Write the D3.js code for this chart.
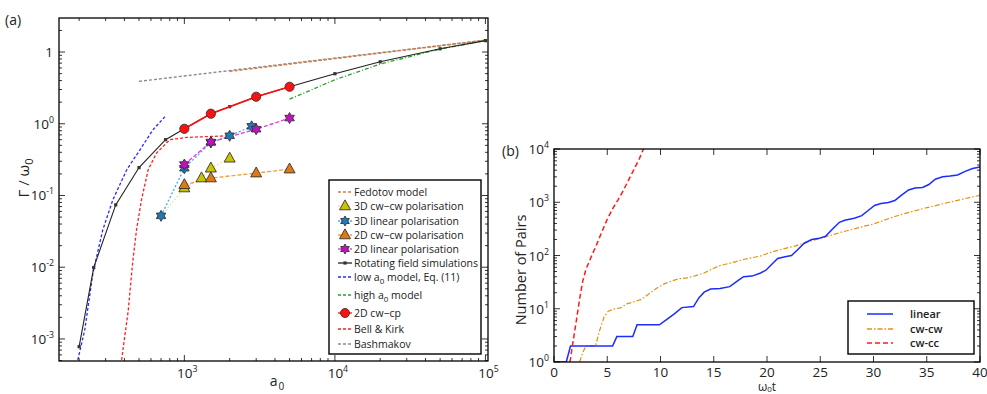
<!DOCTYPE html>
<html><head><meta charset="utf-8">
<script src="https://cdn.jsdelivr.net/npm/d3@7"></script>
<style>body{margin:0;background:#fff} text{font-family:"Open Sans",sans-serif;fill:#222}</style>
</head><body>
<svg id="c" width="987" height="394"></svg>
<script>
// ---------------- Panel (a) data ----------------
const rotA0 = [200,250,350,500,750,1000,1500,2000,3000,5000,10000,20000,50000,100000];
const rotG  = [7.8e-4,0.0099,0.074,0.245,0.6,0.85,1.38,1.73,2.38,3.28,4.98,7.3,11.1,14.4];
const cpA0 = [1000,1500,3000,5000];
const cpG  = [0.85,1.38,2.38,3.28];
const lin2dA0 = [1000,1500,3000,5000];
const lin2dG  = [0.27,0.556,0.84,1.2];
const lin3dA0 = [700,1000,1500,2000,2800];
const lin3dG  = [0.052,0.24,0.55,0.68,0.92];
const cw3dA0 = [700,1000,1300,1500,2000];
const cw3dG  = [0.052,0.127,0.175,0.24,0.33];
const cw2dA0 = [1000,1500,3000,5000];
const cw2dG  = [0.141,0.175,0.205,0.233];
const lowA0 = [196,218,247,287,335,415,506,617,742];
const lowG  = [5.1e-4,1.34e-3,8.3e-3,0.033,0.087,0.23,0.43,0.82,1.25];
const highA0 = [5000,10000,20000,50000,100000];
const highG  = [2.2,4.1,6.8,11,14.4];
const bkA0 = [383,424,453,481,519,575,653,801,1034,1500,2000];
const bkG  = [5.1e-4,2.5e-3,0.0114,0.033,0.087,0.228,0.39,0.6,0.645,0.665,0.68];
const fedA0 = [2000,100000];
const fedG  = [5.37,14.6];
const basA0 = [500,100000];
const basG  = [3.9,14.6];
const aXTicks = [1e3,1e4,1e5];
const aXTickLabels = [["10","3"],["10","4"],["10","5"]];
const aYTicks = [1e-3,1e-2,1e-1,1,10];
const aYTickLabels = [["10","-3"],["10","-2"],["10","-1"],["10","0"],["1",""]];
const aLegend = ["Fedotov model","3D cw\u2212cw polarisation","3D linear polarisation","2D cw\u2212cw polarisation","2D linear polarisation","Rotating field simulations","low a0 model, Eq. (11)","high a0 model","2D cw\u2212cp","Bell & Kirk","Bashmakov"];

// ---------------- Panel (b) data ----------------
const linT = [0,1.15,1.55,5.5,5.9,7.4,7.8,9.9,10.6,11.3,12,13.1,13.6,14.1,14.7,15.6,16.5,17.3,17.8,18.6,19.4,19.9,20.5,21.0,21.7,22.3,22.9,23.5,24.2,24.9,25.5,26.2,26.8,27.3,28.2,28.9,29.5,30.1,30.7,31.4,32.0,32.6,33.3,33.9,34.6,35.2,35.8,36.5,37.2,37.9,38.6,39.3,40];
const linN = [1,1,2,2,3,3,5,5,6.3,8,10.5,11,16,20.5,23.5,24,26,34,40,41,47,53,70,88,95,100,130,170,200,210,230,320,420,460,500,560,700,870,950,990,1080,1350,1700,1850,1900,2150,2700,3000,3100,3250,3800,4300,4600];
const cwT = [2.4,2.7,3.0,3.9,4.3,4.7,5.1,5.6,6.3,6.9,7.5,8.2,8.9,9.6,10.3,11,11.7,12.5,13.3,14.1,14.8,15.5,16.3,17,17.8,18.6,19.4,20.2,21,21.8,22.6,23.4,24.2,25,26,27,28,29,30,31,32,33,34,35,36,37,38,39,40];
const cwN = [1,1.5,2,2,4,7,9,9.8,10.5,12.5,13.5,15,19,24,29,33,36.5,38,42,47,55,64,70,76,84,91,98,112,125,138,150,170,190,210,240,275,310,350,390,460,540,620,700,790,880,990,1100,1220,1350];
const ccT = [1.5,1.8,2.1,2.4,2.7,3.0,3.5,4.0,4.5,5.0,5.5,6.0,6.5,7.0,7.5,8.0,8.4];
const ccN = [1,2.5,6,15,33,55,95,160,280,480,750,1100,1650,2600,4100,6500,10000];
const bXTicks = [0,5,10,15,20,25,30,35,40];
const bYTicks = [1,10,100,1000,10000];
const bYTickLabels = [["10","0"],["10","1"],["10","2"],["10","3"],["10","4"]];
const bLegend = ["linear","cw-cw","cw-cc"];

const svg = d3.select("#c");
const defs = svg.append("defs");

function minorLog(domain){
  const out=[]; const lo=Math.floor(Math.log10(domain[0])), hi=Math.ceil(Math.log10(domain[1]));
  for(let e=lo;e<=hi;e++) for(let k=2;k<=9;k++){const v=k*Math.pow(10,e); if(v>=domain[0]&&v<=domain[1]) out.push(v);}
  return out;
}
function frame(g,x,y,xMaj,xMin,yMaj,yMin){
  const [x0,x1]=x.range(), [y0,y1]=y.range();
  const tk=(x1a,y1a,x2a,y2a)=>g.append("line").attr("x1",x1a).attr("y1",y1a).attr("x2",x2a).attr("y2",y2a).attr("stroke","#000").attr("stroke-width",0.8);
  xMaj.forEach(v=>{tk(x(v),y0,x(v),y0-6);tk(x(v),y1,x(v),y1+6);});
  xMin.forEach(v=>{tk(x(v),y0,x(v),y0-3);tk(x(v),y1,x(v),y1+3);});
  yMaj.forEach(v=>{tk(x0,y(v),x0+6,y(v));tk(x1,y(v),x1-6,y(v));});
  yMin.forEach(v=>{tk(x0,y(v),x0+3,y(v));tk(x1,y(v),x1-3,y(v));});
  g.append("rect").attr("x",x0).attr("y",y1).attr("width",x1-x0).attr("height",y0-y1)
   .attr("fill","none").attr("stroke","#000").attr("stroke-width",1.3);
}
function supLabel(g,x,y,lab,anchor,size){
  const t=g.append("text").attr("x",x).attr("y",y).attr("text-anchor",anchor).attr("font-size",size);
  t.append("tspan").text(lab[0]);
  if(lab[1]) t.append("tspan").attr("dy",-6).attr("font-size",size*0.65).text(lab[1]);
  return t;
}
function hexagram(r){
  const pts=[];
  for(let i=0;i<12;i++){const a=-Math.PI/2+i*Math.PI/6; const rr=i%2?r/Math.sqrt(3):r; pts.push([rr*Math.cos(a),rr*Math.sin(a)]);}
  return "M"+pts.map(p=>p[0].toFixed(2)+","+p[1].toFixed(2)).join("L")+"Z";
}
function triangle(w){const h=w*0.9; return `M0,${-h*0.62}L${w/2},${h*0.38}L${-w/2},${h*0.38}Z`;}

// ================= Panel (a) =================
const ga = svg.append("g");
const xa = d3.scaleLog().domain([147,1.04e5]).range([59,488]);
const ya = d3.scaleLog().domain([4.93e-4,29.8]).range([361,18]);
defs.append("clipPath").attr("id","ca").append("rect").attr("x",59).attr("y",18).attr("width",429).attr("height",343);
const pa = ga.append("g").attr("clip-path","url(#ca)");
const lineA = d3.line().x(d=>xa(d[0])).y(d=>ya(d[1]));
const zip=(a,b)=>a.map((v,i)=>[v,b[i]]);
function pathA(a,b,col,dash,w){return pa.append("path").attr("d",lineA(zip(a,b))).attr("fill","none").attr("stroke",col).attr("stroke-width",w||1.2).attr("stroke-dasharray",dash||null);}

const C = {fed:"#d0804a",bas:"#8a8a8a",cw3:"#c8c400",lin3:"#1f78b8",cw2:"#e07a10",lin2:"#c010c0",rot:"#222",low:"#2a2aff",high:"#2f9f2f",cp:"#ff1010",bk:"#ff2020"};

pathA(basA0,basG,C.bas,"3,2",1.4);
pathA(fedA0,fedG,C.fed,"3,2",1.6);
pathA(highA0,highG,C.high,"4,2,1,2",1.3);
pathA(lowA0,lowG,C.low,"3,2",1.3);
pathA(bkA0,bkG,C.bk,"3,2",1.3);
pathA(rotA0,rotG,C.rot,null,1.1);
pa.selectAll("rect.rot").data(zip(rotA0,rotG)).join("rect").attr("x",d=>xa(d[0])-1.6).attr("y",d=>ya(d[1])-1.6).attr("width",3.2).attr("height",3.2).attr("fill","#333");
pathA(cw3dA0,cw3dG,"#e4e080","1.5,2",1.2);
pathA(lin3dA0,lin3dG,"#44aaee","2,2",1.3);
pathA(cw2dA0,cw2dG,"#f0a040","4,2",1.4);
pathA(lin2dA0,lin2dG,"#dd44dd","4,2",1.4);
pathA(cpA0,cpG,C.cp,null,1.6);

function marks(a,b,shape,col,skipFirst){
  const d=zip(a,b).filter((p,i)=>!(skipFirst&&i===0));
  pa.selectAll(null).data(d).join("path").attr("d",shape)
    .attr("transform",p=>`translate(${xa(p[0])},${ya(p[1])})`)
    .attr("fill",col).attr("stroke","#333").attr("stroke-width",0.9);
}
marks(cw3dA0,cw3dG,triangle(11),C.cw3,true);
marks(cw2dA0,cw2dG,triangle(11),C.cw2);
marks(lin3dA0,lin3dG,hexagram(5.5),C.lin3);
marks(lin2dA0,lin2dG,hexagram(5.5),C.lin2);
pa.selectAll(null).data(zip(cpA0,cpG)).join("circle").attr("cx",d=>xa(d[0])).attr("cy",d=>ya(d[1])).attr("r",4.6)
  .attr("fill",C.cp).attr("stroke","#333").attr("stroke-width",0.9);

frame(ga,xa,ya,aXTicks,minorLog(xa.domain()),aYTicks,minorLog(ya.domain()));
aXTicks.forEach((v,i)=>supLabel(ga,xa(v)+3,378,aXTickLabels[i],"middle",13.5));
aYTicks.forEach((v,i)=>supLabel(ga,aYTickLabels[i][1]?54:53,ya(v)+5,aYTickLabels[i],"end",13.5));

// axis titles
ga.append("text").attr("x",5).attr("y",25).attr("font-size",14).text("(a)");
const xt=ga.append("text").attr("x",277).attr("y",386).attr("text-anchor","middle").attr("font-size",14);
xt.append("tspan").text("a");xt.append("tspan").attr("dy",4).attr("dx",1).attr("font-size",10).text("0");
const yt=ga.append("text").attr("transform","translate(29,178) rotate(-90)").attr("text-anchor","middle").attr("font-size",15).attr("font-family","'Liberation Serif',serif");
yt.append("tspan").text("\u0393 / \u03c9");yt.append("tspan").attr("dy",4).attr("font-size",11).text("0");

// legend (a)
const la = ga.append("g");
la.append("rect").attr("x",329).attr("y",180).attr("width",152).attr("height",174).attr("fill","#fff").attr("stroke","#000").attr("stroke-width",1.4);
const legY=[192,206,221,235,249,263,277,295,313,329,344];
const legStyle=[
 {c:C.fed,d:"3,2"},{c:"#e4e080",d:"1.5,2",m:"tri",f:C.cw3},{c:"#44aaee",d:"2,2",m:"hex",f:C.lin3},{c:"#f0a040",d:"4,2",m:"tri",f:C.cw2},
 {c:"#dd44dd",d:"4,2",m:"hex",f:C.lin2},{c:C.rot,d:null,m:"sq"},{c:C.low,d:"3,2"},{c:C.high,d:"3,2"},{c:C.cp,d:null,m:"circ",f:C.cp},{c:C.bk,d:"3,2"},{c:C.bas,d:"3,2"}];
aLegend.forEach((name,i)=>{
  const yy=legY[i], s=legStyle[i];
  la.append("line").attr("x1",338).attr("x2",352).attr("y1",yy).attr("y2",yy).attr("stroke",s.c).attr("stroke-width",1.3).attr("stroke-dasharray",s.d);
  if(s.m==="tri") la.append("path").attr("d",triangle(11)).attr("transform",`translate(345,${yy})`).attr("fill",s.f).attr("stroke","#333").attr("stroke-width",0.9);
  if(s.m==="hex") la.append("path").attr("d",hexagram(5)).attr("transform",`translate(345,${yy})`).attr("fill",s.f).attr("stroke","#333").attr("stroke-width",0.9);
  if(s.m==="circ") la.append("circle").attr("cx",345).attr("cy",yy).attr("r",4.5).attr("fill",s.f).attr("stroke","#333").attr("stroke-width",0.9);
  if(s.m==="sq") la.append("rect").attr("x",343.4).attr("y",yy-1.6).attr("width",3.2).attr("height",3.2).attr("fill","#333");
  const t=la.append("text").attr("x",354).attr("y",yy+4).attr("font-size",10.5);
  const m=name.match(/^(.*?a)0(.*)$/);
  if(m){t.append("tspan").text(m[1]);t.append("tspan").attr("dy",3).attr("font-size",8).text("0");t.append("tspan").attr("dy",-3).text(m[2]);}
  else t.text(name);
});

// ================= Panel (b) =================
const gb = svg.append("g");
const xb = d3.scaleLinear().domain([0,40]).range([554,980]);
const yb = d3.scaleLog().domain([1,1e4]).range([362,149]);
defs.append("clipPath").attr("id","cb").append("rect").attr("x",554).attr("y",149).attr("width",426).attr("height",213);
const pb = gb.append("g").attr("clip-path","url(#cb)");
const lineB = d3.line().x(d=>xb(d[0])).y(d=>yb(d[1]));
pb.append("path").attr("d",lineB(zip(cwT,cwN))).attr("fill","none").attr("stroke","#e8900a").attr("stroke-width",1.2).attr("stroke-dasharray","5,2,1.5,2");
pb.append("path").attr("d",lineB(zip(linT,linN))).attr("fill","none").attr("stroke","#1c2cff").attr("stroke-width",1.5);
pb.append("path").attr("d",lineB(zip(ccT,ccN))).attr("fill","none").attr("stroke","#ff1a1a").attr("stroke-width",1.5).attr("stroke-dasharray","5,3");

frame(gb,xb,yb,bXTicks,[],bYTicks,minorLog(yb.domain()));
bXTicks.forEach(v=>gb.append("text").attr("x",xb(v)).attr("y",376.5).attr("text-anchor","middle").attr("font-size",13.5).text(v));
bYTicks.forEach((v,i)=>supLabel(gb,549,yb(v)+5,bYTickLabels[i],"end",13.5));
gb.append("text").attr("x",502).attr("y",156).attr("font-size",14).text("(b)");
gb.append("text").attr("transform","translate(526,270) rotate(-90)").attr("text-anchor","middle").attr("font-size",14.5).text("Number of Pairs");
const bt=gb.append("text").attr("x",767).attr("y",390.5).attr("text-anchor","middle").attr("font-size",12);
bt.append("tspan").text("\u03c9");bt.append("tspan").attr("dy",1.5).attr("font-size",8).text("0");bt.append("tspan").attr("dy",-1.5).text("t");

const lb = gb.append("g");
lb.append("rect").attr("x",848).attr("y",301).attr("width",126).attr("height",53).attr("fill","#fff").attr("stroke","#000").attr("stroke-width",1.4);
const lbY=[314,329,343];
const lbSt=[{c:"#1c2cff",d:null},{c:"#e8900a",d:"5,2,1.5,2"},{c:"#ff1a1a",d:"5,3"}];
bLegend.forEach((n,i)=>{
  lb.append("line").attr("x1",867).attr("x2",893).attr("y1",lbY[i]).attr("y2",lbY[i]).attr("stroke",lbSt[i].c).attr("stroke-width",1.5).attr("stroke-dasharray",lbSt[i].d);
  lb.append("text").attr("x",910).attr("y",lbY[i]+4).attr("font-size",11).attr("font-weight",600).text(n);
});
</script></body></html>
